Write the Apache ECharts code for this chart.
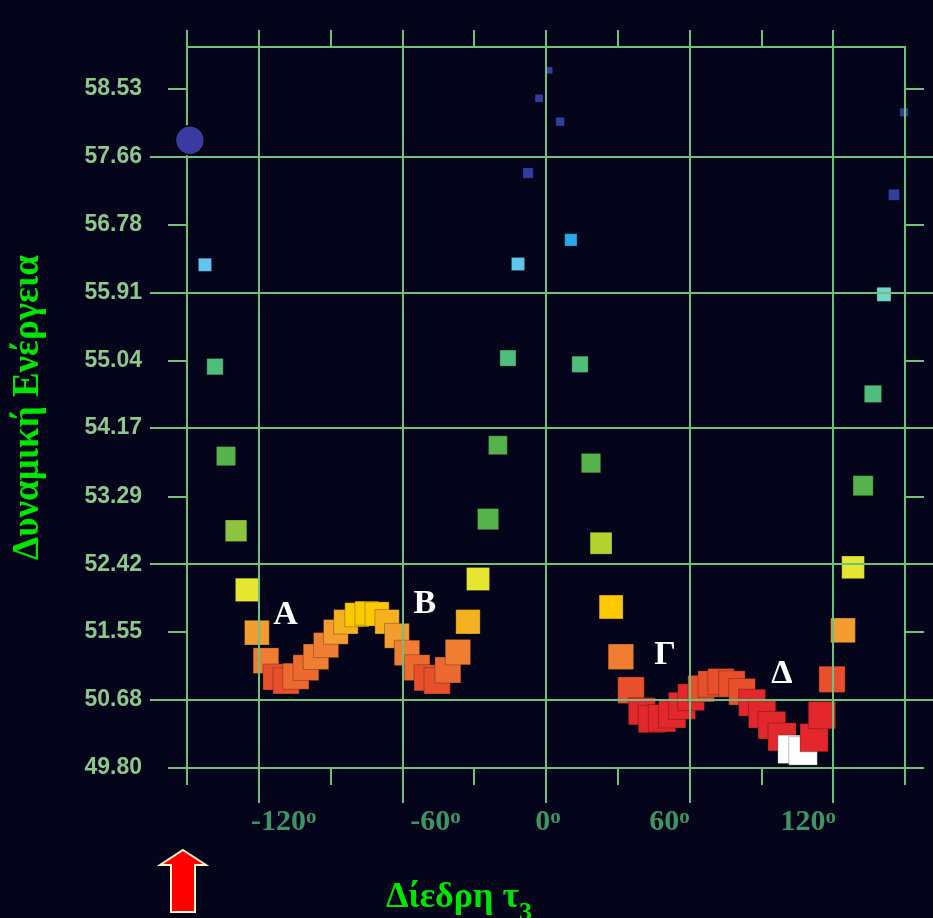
<!DOCTYPE html>
<html>
<head>
<meta charset="utf-8">
<script src="https://cdn.jsdelivr.net/npm/echarts@6/dist/echarts.min.js"></script>
<style>
html,body{margin:0;padding:0;background:#04041a;}
#c{width:933px;height:918px;}
</style>
</head>
<body>
<div id="c"></div>
<script>
// ---- data (dihedral τ3 in degrees, potential energy) ----
const tau3 = [-142.5,-138.3,-133.7,-129.5,-124.9,-120.8,-117.0,-112.8,-108.6,-104.5,
  -100.3,-96.1,-91.9,-87.8,-83.6,-79.0,-74.8,-70.6,-66.4,-62.3,
  -58.1,-53.9,-49.7,-45.5,-41.0,-36.8,-32.6,-28.4,-24.2,-20.1,
  -15.9,-11.7,-7.5,-2.9,1.3,5.9,10.4,14.2,18.8,23.0,
  27.2,31.3,35.5,40.1,44.3,48.5,52.7,56.8,60.6,64.8,
  69.0,73.1,77.7,81.9,86.1,90.3,94.4,98.6,102.8,107.4,
  112.0,115.3,119.5,124.1,128.3,132.5,136.6,141.2,145.4,149.6];
const energy = [56.27,54.96,53.81,52.85,52.09,51.54,51.18,50.97,50.92,50.98,
  51.09,51.23,51.38,51.55,51.68,51.77,51.79,51.78,51.68,51.50,
  51.28,51.09,50.96,50.92,51.06,51.29,51.68,52.23,53.00,53.95,
  55.07,56.28,57.45,58.41,58.77,58.11,56.59,54.99,53.72,52.69,
  51.87,51.23,50.80,50.53,50.43,50.44,50.49,50.60,50.71,50.82,
  50.88,50.91,50.88,50.78,50.64,50.49,50.35,50.20,50.04,50.02,
  50.19,50.48,50.94,51.57,52.38,53.43,54.61,55.89,57.17,58.23];
const startTau = [-148.8];
const startEnergy = [57.87];

const yTickValues = [49.80,50.68,51.55,52.42,53.29,54.17,55.04,55.91,56.78,57.66,58.53];
const yTickLabels = ['49.80','50.68','51.55','52.42','53.29','54.17','55.04','55.91','56.78','57.66','58.53'];
const yMajor = [50.68,52.42,54.17,55.91,57.66];
const yMinor = [49.80,51.55,53.29,55.04,56.78,58.53];
const xMajor = [-120,-60,0,60,120];
const xMinor = [-150,-90,-30,30,90,150];
const xTop = [-150,-120,-90,-60,-30,0,30,60,90,120];
const xTickLabels = ['-120','-60','0','60','120'];

const regionNames = ['A','B','Γ','Δ'];
const regionTau = [-108.8,-50.6,49.7,98.6];
const regionEnergy = [51.77,51.91,51.25,51.01];

const yTitle = 'Δυναμική Ενέργεια';
const xTitleMain = 'Δίεδρη τ';
const xTitleSub = '3';

// ---- styling ----
const GRID = '#6ec07c';
const lineSt = {color: GRID, width: 2};
const xShift = [25, 33, 2, -20, -25];
const xRich = {};
xTickLabels.forEach((t, i) => {
  const s = xShift[i];
  xRich['n' + i] = {fontFamily:'Liberation Serif', fontWeight:'bold', fontSize:30, color:'#3c9664',
    lineHeight:30, verticalAlign:'bottom', padding:[0,0,0, s > 0 ? 2*s : 0]};
  xRich['s' + i] = {fontFamily:'Liberation Serif', fontWeight:'bold', fontSize:21, color:'#3c9664',
    lineHeight:21, verticalAlign:'top', padding:[0, s < 0 ? -2*s : 0, 0, 0]};
});

const sqData = tau3.map((t, i) => [t, energy[i]]);
const startData = startTau.map((t, i) => [t, startEnergy[i]]);
const regionData = regionNames.map((n, i) => ({name: n, value: [regionTau[i], regionEnergy[i]]}));

const chart = echarts.init(document.getElementById('c'), null, {width:933, height:918});
const option = {
  backgroundColor: '#04041a',
  animation: false,
  grid: {left:187, right:28, top:47, bottom:150, containLabel:false, outerBoundsMode:'none'},
  visualMap: [
    {type:'piecewise', show:false, seriesIndex:0, dimension:1,
     pieces:[
      {lt:50.12, color:'#ffffff'},
      {gte:50.12, lt:50.74, color:'#e2282c'},
      {gte:50.74, lt:50.98, color:'#e8502c'},
      {gte:50.98, lt:51.16, color:'#ec6a30'},
      {gte:51.16, lt:51.45, color:'#f07e32'},
      {gte:51.45, lt:51.62, color:'#f39c30'},
      {gte:51.62, lt:51.74, color:'#f6b21e'},
      {gte:51.74, lt:51.95, color:'#fcc800'},
      {gte:51.95, lt:52.5, color:'#e6e630'},
      {gte:52.5, lt:52.78, color:'#b4d232'},
      {gte:52.78, lt:52.93, color:'#8cc43e'},
      {gte:52.93, lt:54.3, color:'#56b24a'},
      {gte:54.3, lt:55.5, color:'#4fbe7a'},
      {gte:55.5, lt:56.1, color:'#74d4c8'},
      {gte:56.1, lt:56.45, color:'#60c6ee'},
      {gte:56.45, lt:56.9, color:'#28a8e4'},
      {gte:56.9, color:'#3040a2'}
     ]},
    {type:'continuous', show:false, seriesIndex:0, dimension:1, min:49.8, max:59.2,
     inRange:{symbolSize:[29, 6]}}
  ],
  xAxis: [
    {type:'value', position:'bottom', min:-150, max:150, z:3,
     axisLine:{show:true, onZero:false, lineStyle:lineSt},
     axisTick:{show:true, inside:false, customValues:xMajor, length:35, lineStyle:lineSt},
     splitLine:{show:true, lineStyle:lineSt},
     axisLabel:{show:true, customValues:xMajor, margin:39,
       formatter:(v) => { const i = xMajor.indexOf(Math.round(v)); return '{n'+i+'|'+xTickLabels[i]+'}{s'+i+'|o}'; },
       rich:xRich},
     name:'{t|' + xTitleMain + '}{sub|' + xTitleSub + '}', nameLocation:'middle', nameGap:112,
     nameTextStyle:{rich:{
       t:{fontFamily:'Liberation Serif', fontWeight:'bold', fontSize:36, color:'#00e600', lineHeight:40, verticalAlign:'top'},
       sub:{fontFamily:'Liberation Serif', fontWeight:'bold', fontSize:26, color:'#00e600', lineHeight:26, verticalAlign:'top', padding:[20,174,0,0]}
     }}},
    {type:'value', position:'bottom', min:-150, max:150, z:3,
     axisLine:{show:false, onZero:false},
     axisTick:{show:true, customValues:xMinor, length:17, lineStyle:lineSt},
     splitLine:{show:false}, axisLabel:{show:false}},
    {type:'value', position:'top', min:-150, max:150, z:3,
     axisLine:{show:true, onZero:false, lineStyle:lineSt},
     axisTick:{show:true, customValues:xTop, length:17, lineStyle:lineSt},
     splitLine:{show:false}, axisLabel:{show:false}}
  ],
  yAxis: [
    {type:'value', position:'left', min:49.8, max:59.07, z:3,
     axisLine:{show:true, onZero:false, lineStyle:lineSt},
     axisTick:{show:true, customValues:yMajor, length:37, lineStyle:lineSt},
     splitLine:{show:true, lineStyle:lineSt},
     axisLabel:{show:true, customValues:yTickValues, margin:45, padding:[12,0,0,0],
       fontFamily:'Liberation Sans', fontWeight:'bold', fontSize:23, color:'#8cc88c',
       formatter:(v) => { let b = 0; yTickValues.forEach((t, i) => { if (Math.abs(t - v) < Math.abs(yTickValues[b] - v)) b = i; }); return yTickLabels[b]; }},
     name:yTitle, nameLocation:'middle', nameRotate:90, nameGap:140,
     nameTextStyle:{fontFamily:'Liberation Serif', fontWeight:'bold', fontSize:37, color:'#00e600'}},
    {type:'value', position:'left', min:49.8, max:59.07, z:3,
     axisLine:{show:false, onZero:false},
     axisTick:{show:true, customValues:yMinor, length:19, lineStyle:lineSt},
     splitLine:{show:false}, axisLabel:{show:false}},
    {type:'value', position:'right', min:49.8, max:59.07, z:3,
     axisLine:{show:true, onZero:false, lineStyle:lineSt},
     axisTick:{show:true, customValues:yMajor, length:32, lineStyle:lineSt},
     splitLine:{show:false}, axisLabel:{show:false}},
    {type:'value', position:'right', min:49.8, max:59.07, z:3,
     axisLine:{show:false, onZero:false},
     axisTick:{show:true, customValues:yMinor, length:19, lineStyle:lineSt},
     splitLine:{show:false}, axisLabel:{show:false}}
  ],
  series: [
    {type:'scatter', name:'scan', xAxisIndex:0, yAxisIndex:0, z:1, symbol:'rect', data:sqData,
     itemStyle:{borderColor:'rgba(0,0,0,0.25)', borderWidth:1, opacity:1},
     emphasis:{disabled:true}, silent:true},
    {type:'scatter', name:'start', xAxisIndex:0, yAxisIndex:0, z:5, symbol:'circle', symbolSize:29, data:startData,
     itemStyle:{color:'#3a3aa0', borderColor:'#000000', borderWidth:1.5, opacity:1},
     emphasis:{disabled:true}, silent:true},
    {type:'scatter', name:'regions', xAxisIndex:0, yAxisIndex:0, z:6, symbolSize:0, data:regionData,
     itemStyle:{opacity:1},
     label:{show:true, position:'inside', formatter:'{b}', fontFamily:'Liberation Serif', fontWeight:'bold',
       fontSize:34, color:'#ffffff', opacity:1},
     emphasis:{disabled:true}, silent:true}
  ]
};
chart.setOption(option);

// decorative red arrow pointing at the start of the scan (τ3 = -150)
const ax = chart.convertToPixel({xAxisIndex:0}, -150) - 4;
chart.setOption({graphic:[{type:'polygon', x:ax, y:850, z:10,
  shape:{points:[[0,0],[23,15],[12,15],[12,62],[-12,62],[-12,15],[-23,15]]},
  style:{fill:'#ff0000', stroke:'#fff2c8', lineWidth:2}}]});
</script>
</body>
</html>
